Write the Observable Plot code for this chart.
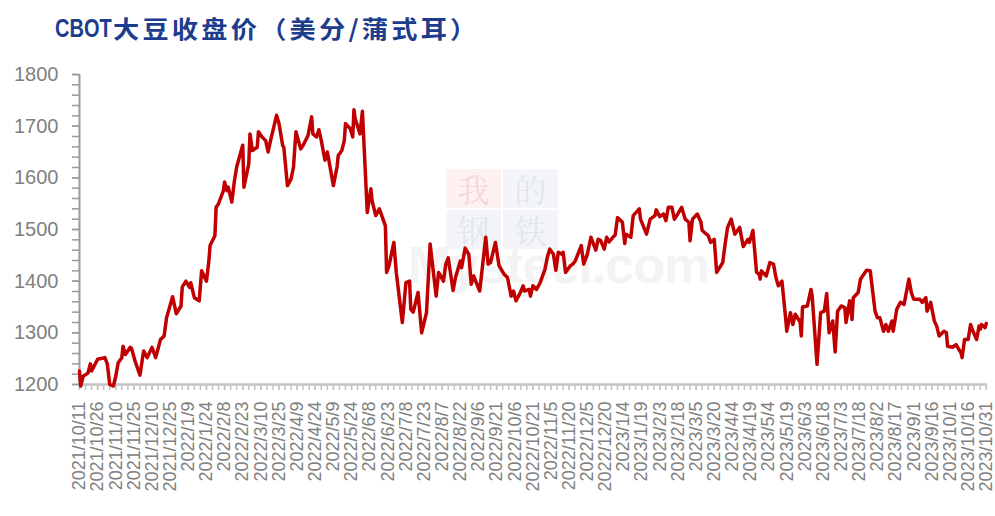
<!DOCTYPE html>
<html><head><meta charset="utf-8">
<script src="https://cdn.jsdelivr.net/npm/d3@7"></script>
<script src="https://cdn.jsdelivr.net/npm/@observablehq/plot@0.6"></script>
<style>
html,body{margin:0;padding:0;background:#fff;}
#wrap{position:relative;width:995px;height:516px;overflow:hidden;font-family:"Liberation Sans",Arial,sans-serif;}
#cbot{position:absolute;left:55px;top:13px;font:bold 25px/30px "Liberation Sans",Arial,sans-serif;color:#1c3d8e;transform:scaleX(0.8);transform-origin:left center;white-space:nowrap;}
#cn{position:absolute;left:113px;top:13px;font:bold 24px/30px "Noto Sans CJK SC",sans-serif;letter-spacing:3px;color:#1c3d8e;transform:scaleX(1.09);transform-origin:left center;white-space:nowrap;}
#wm{position:absolute;left:0;top:0;width:995px;height:516px;}
.box{position:absolute;width:55px;height:39px;}
.box span{display:block;font:32px/39px "Noto Serif CJK SC","Noto Sans CJK SC",serif;text-align:center;}
#mys{position:absolute;left:408px;top:250px;font:bold 52px/30px "Liberation Sans",Arial,sans-serif;color:#f3f3f3;letter-spacing:-1px;}
#chart{position:absolute;left:0;top:50px;}
</style></head>
<body><div id="wrap">
<div id="wm">
  <div id="mys">Mysteel.com</div>
  <div class="box" style="left:446px;top:169px;background:#fdf1f1;color:#f7d6d6"><span>我</span></div>
  <div class="box" style="left:503px;top:169px;background:#f4f5f9;color:#e2e6ef"><span>的</span></div>
  <div class="box" style="left:446px;top:210px;background:#f4f5f9;color:#e2e6ef"><span>钢</span></div>
  <div class="box" style="left:503px;top:210px;background:#f4f5f9;color:#e2e6ef"><span>铁</span></div>
</div>
<div id="cbot">CBOT</div>
<div id="cn">大豆收盘价（美分/蒲式耳）</div>
<div id="chart"></div>
</div>
<script>
const xTickLabels = ["2021/10/11","2021/10/26","2021/11/10","2021/11/25","2021/12/10","2021/12/25","2022/1/9","2022/1/24","2022/2/8","2022/2/23","2022/3/10","2022/3/25","2022/4/9","2022/4/24","2022/5/9","2022/5/24","2022/6/8","2022/6/23","2022/7/8","2022/7/23","2022/8/7","2022/8/22","2022/9/6","2022/9/21","2022/10/6","2022/10/21","2022/11/5","2022/11/20","2022/12/5","2022/12/20","2023/1/4","2023/1/19","2023/2/3","2023/2/18","2023/3/5","2023/3/20","2023/4/4","2023/4/19","2023/5/4","2023/5/19","2023/6/3","2023/6/18","2023/7/3","2023/7/18","2023/8/2","2023/8/17","2023/9/1","2023/9/16","2023/10/1","2023/10/16","2023/10/31"];
const yTicks = [1200,1300,1400,1500,1600,1700,1800];
const yMinorStep = 20;
const xMinorStepDays = 5;
const xDomain = ["2021-10-11","2023-11-01"];

const dates = [
"2021-10-11","2021-10-12","2021-10-14","2021-10-18","2021-10-20","2021-10-21","2021-10-26","2021-11-01","2021-11-03","2021-11-05",
"2021-11-08","2021-11-10","2021-11-12","2021-11-15","2021-11-16","2021-11-18","2021-11-22","2021-11-23","2021-11-26","2021-11-30",
"2021-12-03","2021-12-06","2021-12-10","2021-12-13","2021-12-17","2021-12-20","2021-12-22","2021-12-27","2021-12-30","2022-01-03",
"2022-01-04","2022-01-07","2022-01-10","2022-01-11","2022-01-14","2022-01-18","2022-01-20","2022-01-24","2022-01-26","2022-01-27",
"2022-01-31","2022-02-01","2022-02-03","2022-02-07","2022-02-08","2022-02-10","2022-02-11","2022-02-14","2022-02-16","2022-02-18",
"2022-02-23","2022-02-24","2022-02-28","2022-03-01","2022-03-03","2022-03-07","2022-03-08","2022-03-11","2022-03-14","2022-03-16",
"2022-03-18","2022-03-23","2022-03-25","2022-03-28","2022-03-29","2022-04-01","2022-04-04","2022-04-06","2022-04-08","2022-04-12",
"2022-04-14","2022-04-18","2022-04-21","2022-04-22","2022-04-25","2022-04-27","2022-04-29","2022-05-02","2022-05-04","2022-05-09",
"2022-05-12","2022-05-13","2022-05-16","2022-05-18","2022-05-19","2022-05-23","2022-05-25","2022-05-26","2022-05-27","2022-05-31",
"2022-06-02","2022-06-06","2022-06-09","2022-06-10","2022-06-13","2022-06-16","2022-06-21","2022-06-22","2022-06-24","2022-06-28",
"2022-06-30","2022-07-05","2022-07-08","2022-07-11","2022-07-12","2022-07-14","2022-07-18","2022-07-21","2022-07-25","2022-07-28",
"2022-08-02","2022-08-04","2022-08-08","2022-08-10","2022-08-12","2022-08-16","2022-08-18","2022-08-22","2022-08-23","2022-08-26",
"2022-08-29","2022-08-31","2022-09-02","2022-09-07","2022-09-12","2022-09-14","2022-09-16","2022-09-20","2022-09-23","2022-09-27",
"2022-09-30","2022-10-03","2022-10-05","2022-10-07","2022-10-10","2022-10-13","2022-10-14","2022-10-18","2022-10-19","2022-10-21",
"2022-10-24","2022-10-27","2022-10-31","2022-11-02","2022-11-04","2022-11-07","2022-11-09","2022-11-11","2022-11-14","2022-11-15",
"2022-11-17","2022-11-21","2022-11-23","2022-11-25","2022-11-30","2022-12-02","2022-12-05","2022-12-08","2022-12-12","2022-12-14",
"2022-12-16","2022-12-19","2022-12-21","2022-12-23","2022-12-27","2022-12-28","2022-12-30","2023-01-03","2023-01-05","2023-01-06",
"2023-01-10","2023-01-12","2023-01-17","2023-01-18","2023-01-23","2023-01-26","2023-01-30","2023-01-31","2023-02-03","2023-02-06",
"2023-02-08","2023-02-10","2023-02-13","2023-02-15","2023-02-17","2023-02-21","2023-02-24","2023-02-27","2023-02-28","2023-03-02",
"2023-03-06","2023-03-09","2023-03-10","2023-03-15","2023-03-17","2023-03-20","2023-03-22","2023-03-27","2023-03-29","2023-03-31",
"2023-04-03","2023-04-06","2023-04-10","2023-04-13","2023-04-17","2023-04-18","2023-04-21","2023-04-24","2023-04-26","2023-04-27",
"2023-04-28","2023-05-02","2023-05-05","2023-05-08","2023-05-10","2023-05-12","2023-05-15","2023-05-18","2023-05-19","2023-05-22",
"2023-05-24","2023-05-26","2023-05-30","2023-05-31","2023-06-01","2023-06-05","2023-06-08","2023-06-09","2023-06-13","2023-06-16",
"2023-06-19","2023-06-21","2023-06-23","2023-06-26","2023-06-28","2023-06-30","2023-07-03","2023-07-06","2023-07-07","2023-07-10",
"2023-07-12","2023-07-13","2023-07-17","2023-07-19","2023-07-24","2023-07-27","2023-07-31","2023-08-02","2023-08-04","2023-08-07",
"2023-08-09","2023-08-11","2023-08-14","2023-08-15","2023-08-18","2023-08-21","2023-08-24","2023-08-28","2023-08-30","2023-09-01",
"2023-09-06","2023-09-08","2023-09-11","2023-09-12","2023-09-15","2023-09-18","2023-09-20","2023-09-22","2023-09-26","2023-09-28",
"2023-09-29","2023-10-03","2023-10-06","2023-10-09","2023-10-10","2023-10-11","2023-10-13","2023-10-16","2023-10-18","2023-10-20",
"2023-10-23","2023-10-25","2023-10-26","2023-10-27","2023-10-30","2023-10-31"];

const prices = [
1226,1197,1216,1222,1240,1226,1249,1252,1240,1200,
1197,1216,1242,1252,1274,1258,1272,1270,1245,1218,
1265,1252,1272,1252,1287,1294,1329,1370,1337,1352,
1389,1400,1388,1397,1368,1362,1420,1400,1439,1469,
1488,1543,1550,1575,1592,1575,1582,1553,1592,1621,
1663,1582,1627,1685,1653,1659,1689,1679,1672,1650,
1672,1721,1705,1663,1659,1585,1598,1621,1689,1656,
1663,1682,1718,1685,1679,1693,1672,1634,1650,1585,
1621,1643,1653,1672,1705,1695,1679,1732,1715,1685,
1729,1533,1579,1556,1527,1540,1507,1417,1430,1475,
1417,1320,1397,1400,1346,1340,1378,1300,1339,1472,
1371,1417,1400,1433,1445,1382,1407,1439,1426,1464,
1452,1394,1410,1381,1485,1433,1436,1475,1430,1414,
1407,1371,1381,1362,1375,1391,1381,1384,1371,1391,
1384,1397,1423,1447,1462,1452,1421,1456,1452,1456,
1417,1430,1433,1439,1469,1433,1452,1485,1460,1481,
1479,1462,1485,1476,1487,1489,1523,1514,1473,1491,
1485,1527,1540,1520,1491,1520,1527,1538,1525,1530,
1517,1543,1543,1520,1527,1543,1520,1514,1478,1520,
1530,1514,1498,1488,1475,1481,1417,1436,1472,1504,
1520,1491,1504,1467,1481,1475,1498,1417,1414,1404,
1420,1410,1436,1433,1407,1391,1400,1329,1303,1339,
1316,1336,1321,1294,1350,1352,1384,1371,1239,1339,
1342,1376,1300,1323,1263,1342,1352,1349,1320,1362,
1326,1368,1378,1404,1421,1420,1342,1329,1329,1303,
1316,1303,1323,1303,1346,1359,1355,1404,1378,1365,
1365,1359,1368,1342,1359,1323,1313,1294,1303,1300,
1274,1272,1277,1265,1262,1252,1287,1287,1316,1303,
1287,1313,1307,1316,1310,1318];

const parseISO = d3.utcParse("%Y-%m-%d");
const parseLabel = d3.utcParse("%Y/%m/%d");
const data = dates.map((d, i) => ({date: parseISO(d), price: prices[i]}));
const domain = xDomain.map(parseISO);
const tickDates = xTickLabels.map(parseLabel);
const labelOf = new Map(tickDates.map((d, i) => [+d, xTickLabels[i]]));
const minorX = d3.range(0, d3.utcDay.count(domain[0], domain[1]), xMinorStepDays).map(k => d3.utcDay.offset(domain[0], k));
const minorY = d3.range(yTicks[0], yTicks[yTicks.length - 1] + 1, yMinorStep);

const chart = Plot.plot({
  width: 995,
  height: 466,
  marginTop: 24,
  marginBottom: 132,
  marginLeft: 79,
  marginRight: 8,
  style: {background: "transparent", fontFamily: "'Liberation Sans', Arial, sans-serif", overflow: "visible"},
  x: {type: "utc", domain, label: null},
  y: {domain: [yTicks[0], yTicks[yTicks.length - 1]], label: null},
  marks: [
    Plot.axisY({ticks: minorY, tickSize: 7, tickFormat: () => "", stroke: "#9a9a9a", strokeWidth: 1.5, label: null}),
    Plot.axisY({ticks: yTicks, tickSize: 7, tickPadding: 14, tickFormat: d => String(d), fontSize: 20, fill: "#808080", stroke: "#9a9a9a", strokeWidth: 1.5, label: null}),
    Plot.ruleX([domain[0]], {stroke: "#9a9a9a", strokeWidth: 2}),
    Plot.axisX({ticks: minorX, tickSize: 6, tickFormat: () => "", stroke: "#c4c4c4", strokeWidth: 1.5, label: null}),
    Plot.axisX({ticks: tickDates, tickSize: 6, tickPadding: 11, tickRotate: -90, tickFormat: d => labelOf.get(+d), fontSize: 18, letterSpacing: 1, fill: "#808080", stroke: "#c4c4c4", strokeWidth: 1.5, label: null}),
    Plot.ruleY([yTicks[0]], {stroke: "#c4c4c4", strokeWidth: 2.5}),
    Plot.lineY(data, {x: "date", y: "price", stroke: "#c00000", strokeWidth: 3.5, strokeLinejoin: "round"})
  ]
});
document.getElementById("chart").appendChild(chart);
</script>
</body></html>
